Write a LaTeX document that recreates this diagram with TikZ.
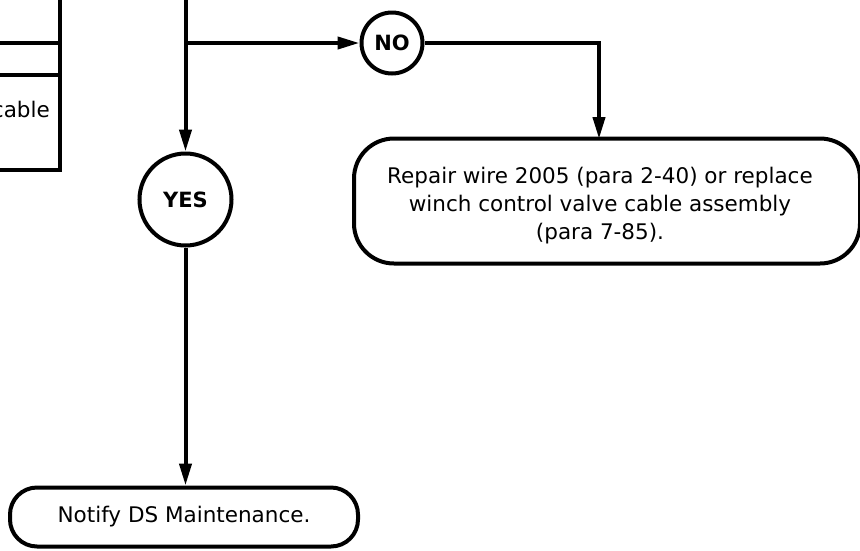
\documentclass[tikz,border=0pt]{standalone}
\usepackage{fontspec}
\setmainfont{DejaVu Sans}
\usetikzlibrary{arrows.meta}
\tikzset{
  ln/.style={line width=4pt, draw=black},
  arr/.style={ln, -{Triangle[length=22pt,width=12pt]}},
  txt/.style={font=\fontsize{21.5}{28}\selectfont, inner sep=0pt},
  decision/.style={circle, ln, inner sep=0pt, font=\fontsize{21}{24}\selectfont\bfseries},
  action/.style={rectangle, ln, inner sep=0pt, align=center, font=\fontsize{21.5}{28}\selectfont},
  cell/.style={rectangle, ln, inner sep=0pt}
}
\begin{document}
\begin{tikzpicture}[x=1pt,y=-1pt]
\useasboundingbox (0,0) rectangle (860,550);
\clip (0,0) rectangle (860,550);
% partial boxes on the left
\node[cell, minimum width=200pt, minimum height=103pt] (cellA) at (-40,-8.5) {};
\node[cell, minimum width=200pt, minimum height=32pt] (cellB) at (-40,59) {};
\node[cell, minimum width=200pt, minimum height=95pt] (cellC) at (-40,122.5) {};
\node[txt, anchor=base east] (cabletxt) at (50,117) {cable};
% decisions
\node[decision, minimum size=92pt] (yes) at (185.5,199.5) {YES};
\node[decision, minimum size=61pt] (no) at (392,43) {NO};
% actions
\node[action, rounded corners=40pt, minimum width=506pt, minimum height=125pt] (repair) at (607,201) {};
\node[txt, align=center] (repairtxt) at (600,206) {Repair wire 2005 (para 2-40) or replace\\winch control valve cable assembly\\(para 7-85).};
\node[action, rounded corners=27pt, minimum width=348pt, minimum height=59pt] (notify) at (184,517) {Notify DS Maintenance.};
% connectors
\coordinate (top) at (185.5,-5);
\coordinate (split) at (185.5,43);
\coordinate (repairin) at (599,139);
\draw[arr] (top) -- (yes.north);
\draw[arr] (split) -- (no.west);
\draw[arr] (no.east) -| (repairin);
\draw[arr] (yes.south) -- (yes.south |- notify.north);
\end{tikzpicture}
\end{document}
